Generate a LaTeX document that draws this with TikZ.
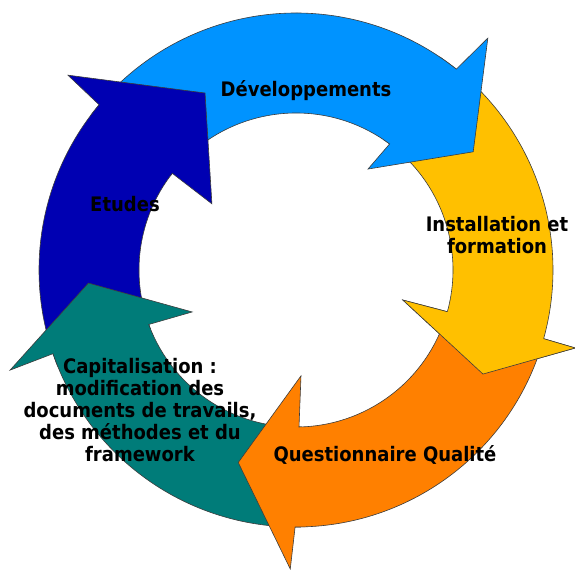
\documentclass[tikz,border=0pt]{standalone}
\usepackage{fontspec}
\newfontfamily\lbl{DejaVu Sans}[FakeStretch=0.9]
\definecolor{cdark}{RGB}{0,0,178}
\definecolor{cblue}{RGB}{0,147,255}
\definecolor{cyel}{RGB}{255,192,0}
\definecolor{corg}{RGB}{255,128,0}
\definecolor{cteal}{RGB}{0,124,121}
\definecolor{cline}{RGB}{60,60,60}
\begin{document}
\begin{tikzpicture}[x=1pt,y=1pt,
  arrowshape/.style={draw=cline,line width=0.6pt,line join=miter},
  label/.style={font=\lbl\bfseries\fontsize{20}{22}\selectfont,align=center,inner sep=0pt,text=black}]
\useasboundingbox (-296,-300) rectangle (279,270);
\def\Ri{157}\def\Ro{257}
% Installation et formation (yellow)
\path[arrowshape,fill=cyel] (56:\Ro) arc[start angle=56,end angle=-15.5,radius=\Ro]
  -- (-15.6:290) -- (-29.1:214) -- (-15.7:111) -- (-15.4:\Ri)
  arc[start angle=-15.4,end angle=56,radius=\Ri] -- cycle;
% Developpements (light blue)
\path[arrowshape,fill=cblue] (143:\Ro) arc[start angle=143,end angle=51.4,radius=\Ro]
  -- (50.4:301) -- (33.7:213) -- (54.5:124) -- (53.4:\Ri)
  arc[start angle=53.4,end angle=143,radius=\Ri] -- cycle;
% Etudes (dark blue)
\path[arrowshape,fill=cdark] (202:\Ro) arc[start angle=202,end angle=140,radius=\Ro]
  -- (139.5:300) -- (117.2:199) -- (141.8:107) -- (142:\Ri)
  arc[start angle=142,end angle=202,radius=\Ri] -- cycle;
% Capitalisation (teal)
\path[arrowshape,fill=cteal] (272:\Ro) arc[start angle=272,end angle=199,radius=\Ro]
  -- (199.3:303) -- (183.6:208) -- (202:112) -- (200.3:\Ri)
  arc[start angle=200.3,end angle=272,radius=\Ri] -- cycle;
% Questionnaire Qualite (orange)
\path[arrowshape,fill=corg] (-17:\Ro) arc[start angle=-17,end angle=-90.2,radius=\Ro]
  -- (-91.1:299) -- (-106.7:201) -- (-87.3:106) -- (-88.9:\Ri)
  arc[start angle=-88.9,end angle=-17,radius=\Ri] -- cycle;
% yellow head on top of the orange tail
\fill[cyel] (-15.5:\Ro) -- (-15.6:290) -- (-29.1:214) -- (-15.7:111) -- (-15.4:\Ri) -- cycle;
\draw[draw=cline,line width=0.6pt,line join=miter] (-15.5:\Ro) -- (-15.6:290) -- (-29.1:214) -- (-15.7:111) -- (-15.4:\Ri);
% labels
\node[label] (dev) at (10,179) {Développements};
\node[label] (etu) at (-171,66) {Etudes};
\node[label] (ins) at (201,35) {Installation et\\formation};
\node[label] (que) at (89,-185) {Questionnaire Qualité};
\node[label] (cap) at (-156,-140) {Capitalisation :\\modification des\\documents de travails,\\des méthodes et du\\framework};
\end{tikzpicture}
\end{document}
